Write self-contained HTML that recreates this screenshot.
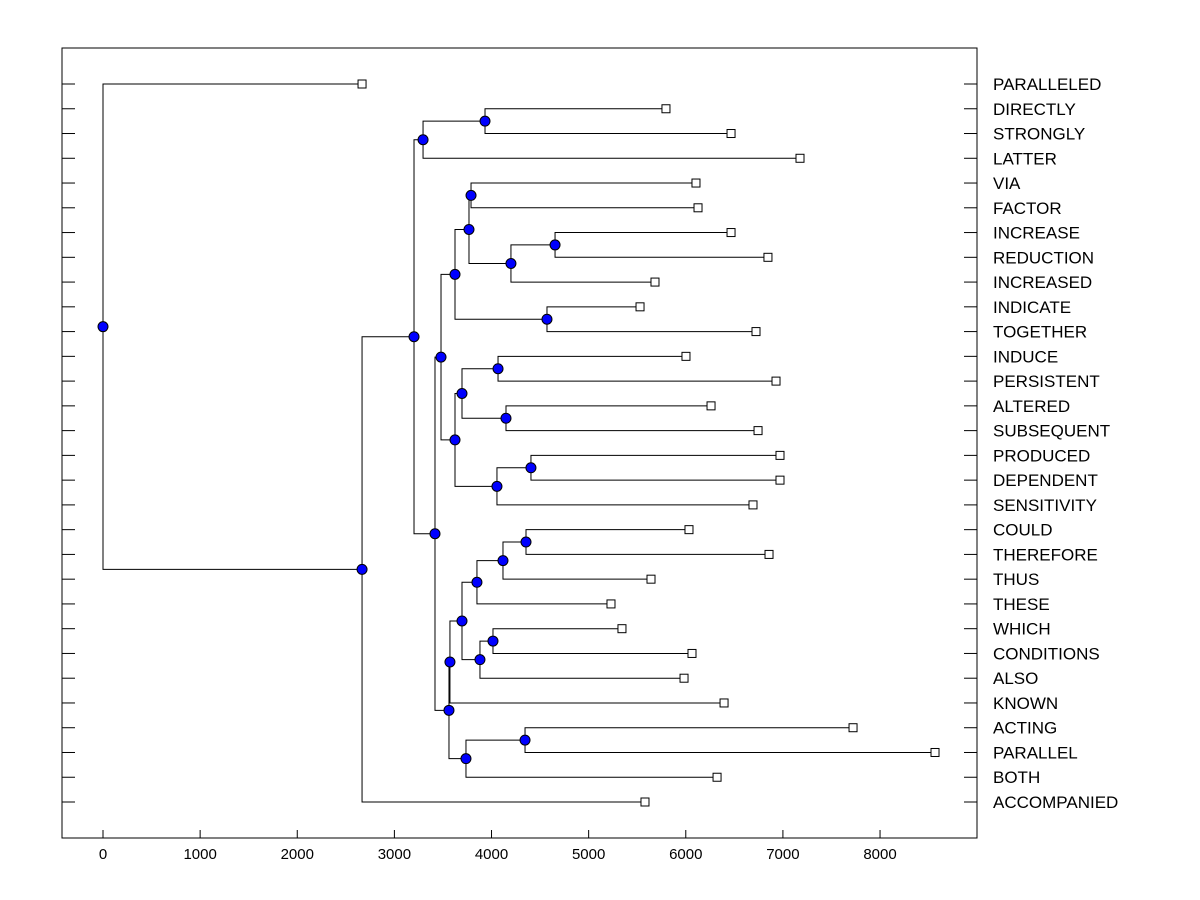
<!DOCTYPE html>
<html><head><meta charset="utf-8"><style>
body{margin:0;background:#fff;}
svg{display:block;font-family:"Liberation Sans",Arial,sans-serif;}
</style></head><body>
<svg id="chart" width="1200" height="900" viewBox="0 0 1200 900">
<rect x="62" y="48" width="915" height="790" fill="#fff" stroke="#000" stroke-width="1"/>
<g id="axes"></g><g id="links"></g><g id="marks"></g>
</svg>
<script>
// Leaf labels (top to bottom) and their merge distances
const leafLabels = ["PARALLELED","DIRECTLY","STRONGLY","LATTER","VIA","FACTOR","INCREASE","REDUCTION","INCREASED","INDICATE","TOGETHER","INDUCE","PERSISTENT","ALTERED","SUBSEQUENT","PRODUCED","DEPENDENT","SENSITIVITY","COULD","THEREFORE","THUS","THESE","WHICH","CONDITIONS","ALSO","KNOWN","ACTING","PARALLEL","BOTH","ACCOMPANIED"];
const leafValues = [2667,5796,6466,7176,6105,6126,6466,6846,5683,5529,6723,6002,6929,6260,6744,6970,6970,6692,6033,6857,5642,5230,5343,6064,5982,6394,7722,8566,6322,5580];
// Internal nodes: [name, value, childA, childB]  (child = leaf label or node name)
const nodeNames = ["K","M","L","I","J","G","P","Q","N","R","O","H","E","Y","X","V","Z","W","U","S","AA","T","F","D","D1","C","B","A","ROOT"];
const nodeValues = [3789,4654,4200,3768,4571,3624,4067,4149,3696,4406,4056,3624,3480,4355,4118,3850,4015,3881,3696,3572,4345,3737,3562,3418,3933,3295,3202,2667,0];
const nodeChildren = [["VIA","FACTOR"],["INCREASE","REDUCTION"],["M","INCREASED"],["K","L"],["INDICATE","TOGETHER"],["I","J"],["INDUCE","PERSISTENT"],["ALTERED","SUBSEQUENT"],["P","Q"],["PRODUCED","DEPENDENT"],["R","SENSITIVITY"],["N","O"],["G","H"],["COULD","THEREFORE"],["Y","THUS"],["X","THESE"],["WHICH","CONDITIONS"],["Z","ALSO"],["V","W"],["U","KNOWN"],["ACTING","PARALLEL"],["AA","BOTH"],["S","T"],["E","F"],["DIRECTLY","STRONGLY"],["D1","LATTER"],["C","D"],["B","ACCOMPANIED"],["PARALLELED","A"]];
const xTicks = [0,1000,2000,3000,4000,5000,6000,7000,8000];

const NS="http://www.w3.org/2000/svg";
const xS=v=>103+v*0.09713;
const yS=i=>84+i*(802-84)/29;
function mk(tag,attrs,parent,txt){const e=document.createElementNS(NS,tag);for(const k in attrs)e.setAttribute(k,attrs[k]);if(txt!==undefined)e.textContent=txt;document.getElementById(parent).appendChild(e);return e;}

const pos={};
leafLabels.forEach((l,i)=>{pos[l]={x:xS(leafValues[i]),y:yS(i)};});
nodeNames.forEach((n,i)=>{const a=pos[nodeChildren[i][0]],b=pos[nodeChildren[i][1]];pos[n]={x:xS(nodeValues[i]),y:(a.y+b.y)/2};});

leafLabels.forEach((l,i)=>{
  const y=yS(i);
  let t=mk('line',{x1:62,y1:y,x2:75,y2:y,stroke:'#000'},'axes');
  
  
  t=mk('line',{x1:964,y1:y,x2:977,y2:y,stroke:'#000'},'axes');
  
  
  const tx=mk('text',{x:993,y:y+6,'font-size':17,fill:'#000'},'axes',l);
  
  
});
xTicks.forEach(v=>{
  const x=xS(v);
  const t=mk('line',{x1:x,y1:838,x2:x,y2:830,stroke:'#000'},'axes');
  
  
  const tx=mk('text',{x:x,y:859,'font-size':15,'text-anchor':'middle',fill:'#000'},'axes',String(v));
  
  
});

nodeNames.forEach((n,i)=>{
  const p=pos[n];
  const a=pos[nodeChildren[i][0]],b=pos[nodeChildren[i][1]];
  const path=mk('path',{d:`M${a.x},${a.y}H${p.x}V${b.y}H${b.x}`,fill:'none',stroke:'#000','stroke-width':1},'links');
  
  
});
leafLabels.forEach(l=>{
  const p=pos[l];
  const r=mk('rect',{x:p.x-4,y:p.y-4,width:8,height:8,fill:'#fff',stroke:'#000'},'marks');
  
  
});
nodeNames.forEach(n=>{
  const p=pos[n];
  const c=mk('circle',{cx:p.x,cy:p.y,r:5,fill:'#0000ff',stroke:'#000','stroke-width':1},'marks');
  
  
});
</script>
</body></html>
